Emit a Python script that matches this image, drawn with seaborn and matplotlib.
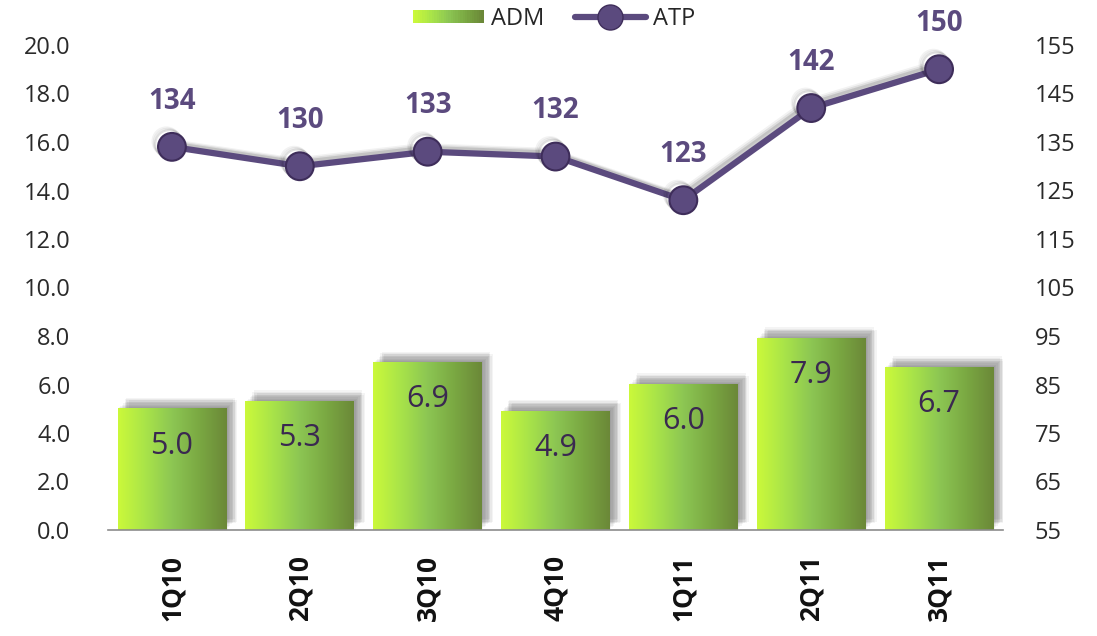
import numpy as np
import pandas as pd
import matplotlib
matplotlib.use("Agg")
import matplotlib.pyplot as plt
import matplotlib.patheffects as pe
from matplotlib.colors import LinearSegmentedColormap
from matplotlib.legend_handler import HandlerBase
from matplotlib.patches import Rectangle
from matplotlib.lines import Line2D
import seaborn as sns

quarters = ["1Q10", "2Q10", "3Q10", "4Q10", "1Q11", "2Q11", "3Q11"]
adm = [5.0, 5.3, 6.9, 4.9, 6.0, 7.9, 6.7]
atp = [134, 130, 133, 132, 123, 142, 150]
left_ticks = np.arange(0, 21, 2)
right_ticks = np.arange(55, 156, 10)

sns.set_theme(style="white")
plt.rcParams["font.family"] = ["Open Sans", "DejaVu Sans"]

green_cmap = LinearSegmentedColormap.from_list(
    "g", ["#cbf93a", "#a9e449", "#8cc653", "#7aa842", "#6b8838"])
purple = "#5b4a7e"
purple_dark = "#3e2d5a"
label_purple = "#3a2850"
tick_col = "#2a2a2a"

fig = plt.figure(figsize=(10.97, 6.36), dpi=100)
ax = fig.add_axes([108/1097, 1-530/636, (1003-108)/1097, (530-45)/636])

df = pd.DataFrame({"q": quarters, "adm": adm, "atp": atp})
sns.barplot(data=df, x="q", y="adm", ax=ax, color="#9fd64a", width=0.85,
            saturation=1, zorder=1)
ax.set_xlim(-0.5, len(quarters) - 0.5)
ax.set_ylim(0, 20)

shadow_offsets = [(1, 1), (2, 2), (3, 3), (4, 4), (5, 5), (6, 6), (7, 5),
                  (5, 7), (8, 6), (6, 8)]
grad = np.linspace(0, 1, 256).reshape(1, -1)
for bar, v in zip(ax.patches, adm):
    bar.set_edgecolor("none")
    effects = [pe.SimplePatchShadow(offset=o, shadow_rgbFace="#000000",
                                    alpha=0.045) for o in shadow_offsets]
    bar.set_path_effects(effects + [pe.Normal()])
    x0, w, h = bar.get_x(), bar.get_width(), bar.get_height()
    ax.imshow(grad, cmap=green_cmap, extent=[x0, x0 + w, 0, h],
              aspect="auto", zorder=2, clip_path=bar, clip_on=True)
    ax.annotate(f"{v:.1f}", (x0 + w/2, h), xytext=(0, -26.5),
                textcoords="offset points", ha="center", va="center",
                fontsize=22, color=label_purple, fontweight="medium", zorder=5)
ax.set_xlim(-0.5, len(quarters) - 0.5)
ax.set_ylim(0, 20)

ax.set_yticks(left_ticks)
ax.set_yticklabels([f"{t:.1f}" for t in left_ticks], fontsize=17, color=tick_col)
ax.tick_params(axis="y", length=0, pad=27)
ax.set_xticks(range(len(quarters)))
ax.set_xticklabels(quarters, rotation=90, fontsize=19, fontweight="bold",
                   color="#111111")
ax.tick_params(axis="x", which="major", length=0, pad=18)
ax.set_xticks(np.arange(-0.5, len(quarters)), minor=True)
ax.tick_params(axis="x", which="minor", length=10, width=1.2, color="#8c8c8c",
               direction="out")
for s in ["left", "right", "top"]:
    ax.spines[s].set_visible(False)
ax.spines["bottom"].set_color("#8c8c8c")
ax.spines["bottom"].set_linewidth(1.2)
ax.set_xlabel("")
ax.set_ylabel("")

ax2 = ax.twinx()
xpos = np.arange(len(quarters))
sns.lineplot(x=xpos, y=atp, ax=ax2, color=purple, linewidth=4.5, marker="o",
             markersize=20, markerfacecolor=purple, markeredgecolor=purple_dark,
             markeredgewidth=1.5, zorder=4)
for ln in ax2.lines:
    ln.set_path_effects([
        pe.SimpleLineShadow(offset=(-2, 2), alpha=0.12, shadow_color="#000000"),
        pe.SimpleLineShadow(offset=(-3, 3), alpha=0.08, shadow_color="#000000"),
        pe.SimpleLineShadow(offset=(-4, 4), alpha=0.05, shadow_color="#000000"),
        pe.Normal()])
for xi, v in zip(xpos, atp):
    ax2.annotate(f"{v}", (xi, v), xytext=(0, 33), textcoords="offset points",
                 ha="center", va="center", fontsize=20, fontweight="bold",
                 color=purple, zorder=6)
ax2.set_ylim(55, 155)
ax2.set_yticks(right_ticks)
ax2.set_yticklabels([str(t) for t in right_ticks], fontsize=17, color=tick_col)
ax2.tick_params(axis="y", length=0, pad=23)
for s in ["left", "right", "top", "bottom"]:
    ax2.spines[s].set_visible(False)
ax2.set_xlim(-0.5, len(quarters) - 0.5)


class HandlerGradient(HandlerBase):
    def create_artists(self, legend, orig_handle, xdescent, ydescent, width,
                       height, fontsize, trans):
        n = 30
        arts = []
        for i in range(n):
            r = Rectangle((-xdescent + i * width / n, -ydescent + height * 0.1),
                          width / n * 1.05, height * 0.8,
                          facecolor=green_cmap(i / (n - 1)), edgecolor="none",
                          transform=trans)
            arts.append(r)
        return arts


bar_handle = Rectangle((0, 0), 1, 1)
line_handle = Line2D([0], [0], color=purple, linewidth=4.5, marker="o",
                     markersize=18, markerfacecolor=purple,
                     markeredgecolor=purple_dark)
fig.legend([bar_handle, line_handle], ["ADM", "ATP"],
           handler_map={Rectangle: HandlerGradient()},
           loc="center", bbox_to_anchor=(0.505, 0.97), ncol=2, frameon=False,
           fontsize=17, handlelength=3.0, handletextpad=0.3, columnspacing=1.3)

fig.savefig("out.png", dpi=100)
